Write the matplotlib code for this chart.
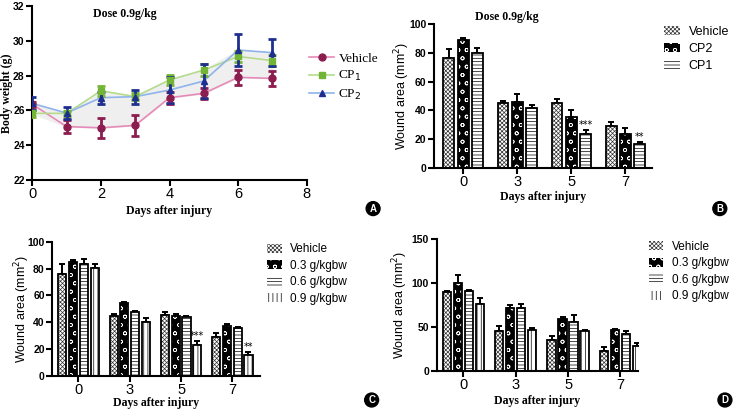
import numpy as np
import matplotlib.pyplot as plt
from matplotlib.patches import Patch
from matplotlib.lines import Line2D

plt.rcParams['hatch.linewidth'] = 0.5

SANS = 'Liberation Sans'
SERIF = 'Liberation Serif'

# panel A - body weight
days = [0, 1, 2, 3, 4, 5, 6, 7]
bw_vehicle = [26.35, 25.07, 25.0, 25.14, 26.73, 26.98, 27.9, 27.84]
bw_vehicle_err = [0.15, 0.35, 0.57, 0.6, 0.35, 0.3, 0.45, 0.43]
bw_cp1 = [25.83, 25.83, 27.13, 26.79, 27.75, 28.32, 29.1, 28.86]
bw_cp1_err = [0.2, 0.15, 0.3, 0.2, 0.3, 0.35, 0.3, 0.3]
bw_cp2 = [26.4, 25.85, 26.73, 26.79, 27.17, 27.69, 29.47, 29.32]
bw_cp2_err = [0.38, 0.35, 0.35, 0.4, 0.75, 1.0, 0.92, 0.78]

# panels B-D - wound area
day_labels = ['0', '3', '5', '7']

b_vehicle = [76.7, 44.9, 45.3, 29.3]
b_vehicle_err = [6.0, 1.5, 2.5, 2.6]
b_cp2 = [89.0, 46.0, 35.6, 23.3]
b_cp2_err = [1.5, 5.5, 4.4, 4.6]
b_cp1 = [80.2, 41.5, 23.3, 16.3]
b_cp1_err = [3.0, 2.0, 2.8, 1.6]

c_vehicle = [76.1, 44.8, 45.3, 28.9]
c_vehicle_err = [7.0, 1.5, 2.5, 3.0]
c_03 = [85.1, 54.0, 44.8, 37.3]
c_03_err = [1.0, 0.8, 1.5, 1.5]
c_06 = [83.3, 47.3, 43.5, 35.8]
c_06_err = [4.0, 1.2, 1.2, 0.8]
c_09 = [80.1, 40.3, 22.9, 15.4]
c_09_err = [3.0, 3.0, 3.2, 2.0]

d_vehicle = [89.4, 45.8, 35.2, 22.7]
d_vehicle_err = [1.5, 5.7, 4.2, 4.5]
d_03 = [100.0, 71.2, 59.1, 46.2]
d_03_err = [9.0, 3.8, 1.9, 1.5]
d_06 = [90.9, 71.2, 56.1, 41.7]
d_06_err = [1.5, 4.5, 7.5, 3.8]
d_09 = [76.1, 46.6, 45.5, 28.8]
d_09_err = [7.0, 1.9, 1.1, 3.0]

dose_labels = ['Vehicle', '0.3 g/kgbw', '0.6 g/kgbw', '0.9 g/kgbw']

# (face, hatch colour, hatch)
STYLE_VEH = ('white', '#333333', 'xxxxxxxx')
STYLE_LOW = ('black', 'white', 'oo')
STYLE_MID = ('white', 'black', '-----')
STYLE_HIGH = ('white', 'black', '||||')


def style_axes(ax):
    for s in ['top', 'right']:
        ax.spines[s].set_visible(False)
    for s in ['left', 'bottom']:
        ax.spines[s].set_linewidth(1.5)
    ax.tick_params(width=1.5, length=4)
    ax.tick_params(axis='x', pad=1)
    ax.tick_params(axis='y', pad=1.5)
    for t in ax.get_yticklabels():
        t.set_fontfamily(SANS)
        t.set_fontweight('bold')
        t.set_fontsize(7.5)
    for t in ax.get_xticklabels():
        t.set_fontfamily(SANS)
        t.set_fontsize(10.5)


def hatched_bars(ax, x, vals, errs, style, width):
    face, hcol, hatch = style
    ax.errorbar(x, vals, yerr=[np.zeros(len(vals)), errs], fmt='none', ecolor='black',
                elinewidth=1.4, capsize=2.5, capthick=1.4, zorder=1)
    ax.bar(x, vals, width, color=face, edgecolor=hcol, hatch=hatch, linewidth=0, zorder=2)
    ax.bar(x, vals, width, fill=False, edgecolor='black', linewidth=1.3, zorder=3)


def legend_handle(style):
    face, hcol, hatch = style
    return Patch(facecolor=face, edgecolor=hcol, hatch=hatch, linewidth=0)


def bar_legend(handles, labels, x, y, size, spacing):
    fig.legend(handles=handles, labels=labels, loc='upper left', bbox_to_anchor=(x, y),
               borderaxespad=0, borderpad=0, frameon=False, prop={'family': SANS, 'size': size},
               handlelength=1.25, handleheight=0.75, labelspacing=spacing, handletextpad=0.7)


def bar_panel(ax, series, styles, width, step, xlim, ylim, yticks, ylab_x, xlab_y):
    x = np.arange(len(day_labels))
    n = len(series)
    for i, ((vals, errs), st) in enumerate(zip(series, styles)):
        hatched_bars(ax, x + (i - (n - 1) / 2) * step, vals, errs, st, width)
    ax.set_xticks(x)
    ax.set_xticklabels(day_labels)
    ax.set_xlim(*xlim)
    ax.set_ylim(*ylim)
    ax.set_yticks(yticks)
    ax.set_ylabel('Wound area (mm$^2$)', fontfamily=SANS, fontsize=9)
    ax.set_xlabel('Days after injury', fontfamily=SERIF, fontweight='bold', fontsize=8.5)
    ax.yaxis.set_label_coords(ylab_x, 0.5)
    ax.xaxis.set_label_coords(0.5, xlab_y)
    style_axes(ax)
    return x


fig = plt.figure(figsize=(7.33, 4.09), dpi=100)

# ---- A ----
axA = fig.add_axes([0.0441, 0.5599, 0.3743, 0.4254])
lo = np.minimum(np.minimum(bw_vehicle, bw_cp1), bw_cp2)
hi = np.maximum(np.maximum(bw_vehicle, bw_cp1), bw_cp2)
axA.fill_between(days, lo, hi, color='#efefef', zorder=0)
series_a = [
    (bw_vehicle, bw_vehicle_err, '#e58ab8', '#8c1d4f', 'o', 'Vehicle'),
    (bw_cp1, bw_cp1_err, '#b5db8c', '#72b534', 's', 'CP$_1$'),
    (bw_cp2, bw_cp2_err, '#8fb4ea', '#1f2f8f', '^', 'CP$_2$'),
]
handles = []
for vals, errs, lc, mc, mk, lab in series_a:
    axA.plot(days, vals, color=lc, lw=1.2, zorder=2)
    axA.errorbar(days, vals, yerr=errs, fmt=mk, color=mc, ms=5, elinewidth=2,
                 capsize=3, capthick=2, zorder=3)
    handles.append(Line2D([], [], color=lc, lw=1.2, marker=mk, mfc=mc, mec=mc, ms=5, label=lab))
axA.set_xlim(0, 8)
axA.set_ylim(22, 32)
axA.set_xticks([0, 2, 4, 6, 8])
axA.set_yticks([22, 24, 26, 28, 30, 32])
axA.set_ylabel('Body weight (g)', fontfamily=SERIF, fontweight='bold', fontsize=8.5)
axA.set_xlabel('Days after injury', fontfamily=SERIF, fontweight='bold', fontsize=8.5)
axA.yaxis.set_label_coords(-0.07, 0.5)
axA.xaxis.set_label_coords(0.5, -0.144)
axA.text(0.22, 0.99, 'Dose 0.9g/kg', transform=axA.transAxes, fontfamily=SERIF,
         fontweight='bold', fontsize=8.5, va='top')
style_axes(axA)
fig.legend(handles=handles, loc='upper left', bbox_to_anchor=(0.422, 0.872), borderaxespad=0,
           borderpad=0, frameon=False, prop={'family': SERIF, 'size': 9.5}, handlelength=1.9,
           labelspacing=0.35, handletextpad=0.3)

# ---- B ----
axB = fig.add_axes([0.592, 0.59, 0.2975, 0.3506])
bar_panel(axB, [(b_vehicle, b_vehicle_err), (b_cp2, b_cp2_err), (b_cp1, b_cp1_err)],
          [STYLE_VEH, STYLE_LOW, STYLE_MID], 0.2, 0.265, (-0.54, 3.49), (0, 100),
          [0, 20, 40, 60, 80, 100], -0.10, -0.162)
axB.text(0.19, 1.01, 'Dose 0.9g/kg', transform=axB.transAxes, fontfamily=SERIF,
         fontweight='bold', fontsize=8.5, va='bottom')
axB.text(2 + 0.265, b_cp1[2] + b_cp1_err[2] + 1.5, '***', ha='center', fontsize=7)
axB.text(3 + 0.265, b_cp1[3] + b_cp1_err[3] + 1.5, '**', ha='center', fontsize=7)
bar_legend([legend_handle(STYLE_VEH), legend_handle(STYLE_LOW), legend_handle(STYLE_MID)],
           ['Vehicle', 'CP2', 'CP1'], 0.906, 0.937, 9, 0.42)

# ---- C ----
four = [STYLE_VEH, STYLE_LOW, STYLE_MID, STYLE_HIGH]
axC = fig.add_axes([0.0714, 0.0814, 0.2833, 0.3276])
bar_panel(axC, [(c_vehicle, c_vehicle_err), (c_03, c_03_err), (c_06, c_06_err), (c_09, c_09_err)],
          four, 0.16, 0.21, (-0.51, 3.54), (0, 100), [0, 20, 40, 60, 80, 100], -0.098, -0.159)
axC.text(2 + 1.5 * 0.21, c_09[2] + c_09_err[2] + 1.5, '***', ha='center', fontsize=7)
axC.text(3 + 1.5 * 0.21, c_09[3] + c_09_err[3] + 1.5, '**', ha='center', fontsize=7)
bar_legend([legend_handle(s) for s in four], dose_labels, 0.364, 0.405, 8.5, 0.38)

# ---- D ----
axD = fig.add_axes([0.5957, 0.0929, 0.2751, 0.3227])
bar_panel(axD, [(d_vehicle, d_vehicle_err), (d_03, d_03_err), (d_06, d_06_err), (d_09, d_09_err)],
          four, 0.16, 0.21, (-0.51, 3.34), (0, 150), [0, 50, 100, 150], -0.132, -0.182)
bar_legend([legend_handle(s) for s in four], dose_labels, 0.885, 0.411, 8.5, 0.38)

# panel letters
for lx, ly, letter in [(0.509, 0.49, 'A'), (0.982, 0.49, 'B'), (0.507, 0.022, 'C'), (0.989, 0.022, 'D')]:
    fig.text(lx, ly, letter, color='white', fontfamily=SANS, fontweight='bold', fontsize=7,
             ha='center', va='center',
             bbox=dict(boxstyle='circle,pad=0.2', fc='black', ec='black'))

fig.savefig('out.png', dpi=100)
